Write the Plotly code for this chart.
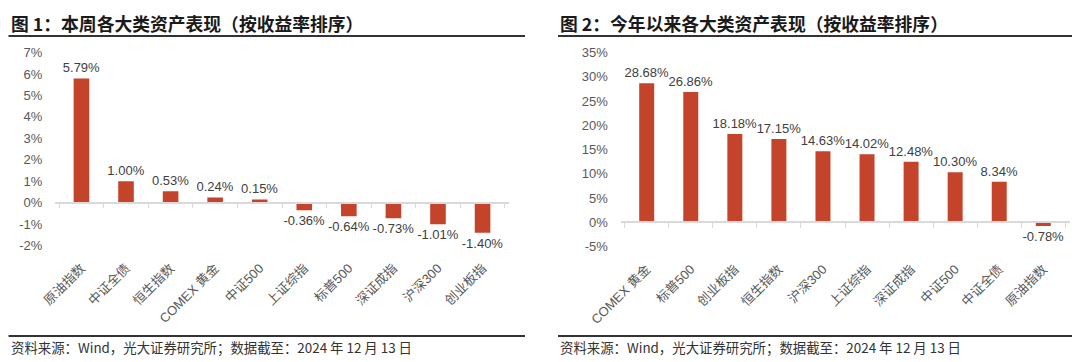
import plotly.graph_objects as go

# ---------------- data ----------------
week_categories = ["原油指数", "中证全债", "恒生指数", "COMEX 黄金", "中证500",
                   "上证综指", "标普500", "深证成指", "沪深300", "创业板指"]
week_values = [5.79, 1.00, 0.53, 0.24, 0.15, -0.36, -0.64, -0.73, -1.01, -1.40]

ytd_categories = ["COMEX 黄金", "标普500", "创业板指", "恒生指数", "沪深300",
                  "上证综指", "深证成指", "中证500", "中证全债", "原油指数"]
ytd_values = [28.68, 26.86, 18.18, 17.15, 14.63, 14.02, 12.48, 10.30, 8.34, -0.78]

week_ticks = [-2, -1, 0, 1, 2, 3, 4, 5, 6, 7]
ytd_ticks = [-5, 0, 5, 10, 15, 20, 25, 30, 35]

title1 = "图 1：本周各大类资产表现（按收益率排序）"
title2 = "图 2：今年以来各大类资产表现（按收益率排序）"
source = "资料来源：Wind，光大证券研究所；数据截至：2024 年 12 月 13 日"

# ---------------- style ----------------
OFF = 8                      # page body margin of the html page
W, H = 1080 - OFF, 362 - OFF
BAR = "#C4432B"
LAT = "Liberation Sans, Arial, Noto Sans CJK SC, sans-serif"
CJK = "Noto Sans CJK SC, sans-serif"
GRID = "#d9d9d9"


def px_x(p):
    return (p - OFF) / W


def px_y(p):
    return 1 - (p - OFF) / H


# plot boxes (window pixels)
L_X = (55, 509)
L_Y = (52.5, 245.5)     # top (7%), bottom (-2%)
R_X = (620.5, 1069.5)
R_Y = (52.5, 246.5)     # top (35%), bottom (-5%)

L_RANGE = [week_ticks[0], week_ticks[-1]]
R_RANGE = [ytd_ticks[0], ytd_ticks[-1]]


def zero_pos(box, rng):
    top, bot = box
    frac = (0 - rng[0]) / (rng[1] - rng[0])
    pix = bot - frac * (bot - top)
    return px_y(pix)


fig = go.Figure()

fig.add_trace(go.Bar(
    x=week_categories, y=week_values, xaxis="x", yaxis="y",
    marker=dict(color=BAR, line=dict(width=0)),
    width=0.35,
    text=[f"{v:.2f}%" for v in week_values], textposition="outside",
    textfont=dict(family=LAT, size=13, color="#404040"),
    constraintext="none", cliponaxis=False, showlegend=False,
))
fig.add_trace(go.Bar(
    x=ytd_categories, y=ytd_values, xaxis="x2", yaxis="y2",
    marker=dict(color=BAR, line=dict(width=0)),
    width=0.34,
    text=[f"{v:.2f}%" for v in ytd_values], textposition="outside",
    textfont=dict(family=LAT, size=13, color="#404040"),
    constraintext="none", cliponaxis=False, showlegend=False,
))
# invisible traces for the zero-line axes with boundary ticks
fig.add_trace(go.Scatter(x=week_categories, y=[None] * len(week_categories),
                         xaxis="x3", yaxis="y", mode="markers",
                         hoverinfo="skip", showlegend=False))
fig.add_trace(go.Scatter(x=ytd_categories, y=[None] * len(ytd_categories),
                         xaxis="x4", yaxis="y2", mode="markers",
                         hoverinfo="skip", showlegend=False))

xtick_font = dict(family=LAT, size=13, color="#595959")
ytick_font = dict(family=LAT, size=13, color="#595959")

common_x = dict(type="category", showgrid=False, zeroline=False, showline=False,
                tickangle=-45, tickfont=xtick_font, ticks="outside", ticklen=9,
                tickcolor="rgba(0,0,0,0)", automargin=False)
common_y = dict(showgrid=False, zeroline=False, showline=False,
                ticks="outside", ticklen=9, tickcolor="rgba(0,0,0,0)",
                tickfont=ytick_font, automargin=False)

zero_axis = dict(type="category", anchor="free", showticklabels=False,
                 showline=True, linecolor=GRID, linewidth=1.5, ticks="outside",
                 ticklen=5, tickcolor=GRID, tickwidth=1, tickson="boundaries",
                 showgrid=False, zeroline=False, automargin=False)

fig.update_layout(
    width=W, height=H, autosize=False,
    margin=dict(l=0, r=0, t=0, b=0, pad=0, autoexpand=False),
    paper_bgcolor="white", plot_bgcolor="white",
    bargap=0.65,
    xaxis=dict(domain=[px_x(L_X[0]), px_x(L_X[1])], anchor="y", **common_x),
    yaxis=dict(domain=[px_y(L_Y[1]), px_y(L_Y[0])], anchor="x",
               range=L_RANGE, tickvals=week_ticks,
               ticktext=[f"{t}%" for t in week_ticks], **common_y),
    xaxis2=dict(domain=[px_x(R_X[0]), px_x(R_X[1])], anchor="y2", **common_x),
    yaxis2=dict(domain=[px_y(R_Y[1]), px_y(R_Y[0])], anchor="x2",
                range=R_RANGE, tickvals=ytd_ticks,
                ticktext=[f"{t}%" for t in ytd_ticks], **common_y),
    xaxis3=dict(overlaying="x", matches="x",
                position=zero_pos(L_Y, L_RANGE), **zero_axis),
    xaxis4=dict(overlaying="x2", matches="x2",
                position=zero_pos(R_Y, R_RANGE), **zero_axis),
)

# titles, rules and source notes
panels = [(8.5, 525, title1), (558, 1075, title2)]
for x0, x1, title in panels:
    fig.add_annotation(x=px_x(x0), y=px_y(22.5), xref="paper", yref="paper",
                       text=f"<b>{title}</b>", showarrow=False,
                       xanchor="left", yanchor="middle",
                       font=dict(family=CJK, size=17.8, color="#1a1a1a"))
    fig.add_shape(type="line", xref="paper", yref="paper",
                  x0=px_x(x0), x1=px_x(x1), y0=px_y(36), y1=px_y(36),
                  line=dict(color="#333333", width=2))
    fig.add_shape(type="line", xref="paper", yref="paper",
                  x0=px_x(x0), x1=px_x(x1), y0=px_y(336), y1=px_y(336),
                  line=dict(color="#333333", width=2))
    fig.add_annotation(x=px_x(x0), y=px_y(346.5), xref="paper", yref="paper",
                       text=source, showarrow=False,
                       xanchor="left", yanchor="middle",
                       font=dict(family=CJK, size=13.4, color="#333333"))

fig.write_html("out.html")
